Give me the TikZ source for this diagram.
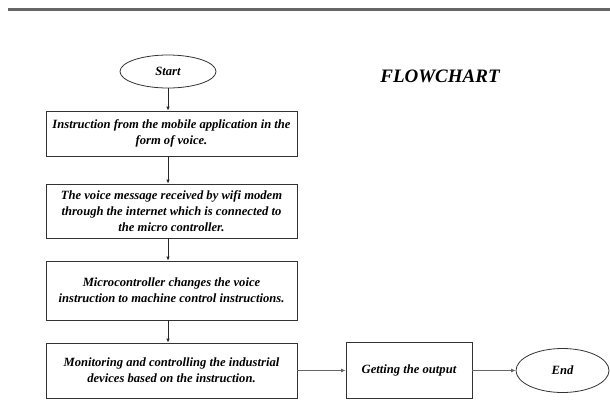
\documentclass[tikz,border=0pt]{standalone}
\usepackage{fontspec}
\setmainfont{Liberation Serif}
\usetikzlibrary{shapes.geometric,arrows.meta}
\tikzset{
  txt/.style={font=\fontsize{12.6}{16}\selectfont\bfseries\itshape, align=center, text=black},
  procbox/.style={txt, draw=black!80, line width=0.8pt, rectangle, minimum width=251pt, inner sep=0pt},
  term/.style={txt, draw=black!80, line width=0.8pt, ellipse, inner sep=0pt},
  arr/.style={draw=black!85, line width=0.8pt, -{Latex[length=4pt,width=3.5pt]}},
  harr/.style={draw=black!60, line width=1.2pt, -{Latex[length=4.5pt,width=4pt]}}
}
\begin{document}
\begin{tikzpicture}[x=1pt,y=-1pt]
\useasboundingbox (0,0) rectangle (610,400);
\fill[white] (0,0) rectangle (610,400);
\draw[draw=black!60, line width=3pt] (8,9.5) -- (610,9.5);
\node[term, minimum width=96pt, minimum height=33pt] (start) at (168,71.5) {Start};
\node[font=\fontsize{19}{22}\selectfont\bfseries\itshape] (title) at (440,76) {FLOWCHART};
\node[procbox, minimum height=45pt] (b1) at (171.5,133.5) {Instruction from the mobile application in the\\form of voice.};
\node[procbox, minimum height=54pt] (b2) at (171.5,211) {The voice message received by wifi modem\\through the internet which is connected to\\the micro controller.};
\node[procbox, minimum height=59pt] (b3) at (171.5,290.5) {Microcontroller changes the voice\\instruction to machine control instructions.};
\node[procbox, minimum height=55pt] (b4) at (171.5,370.5) {Monitoring and controlling the industrial\\devices based on the instruction.};
\node[procbox, minimum width=126pt, minimum height=56pt] (out) at (409,370.5) {Getting the output};
\node[term, minimum width=93pt, minimum height=44pt] (end) at (562.5,370.5) {End};
\draw[arr] (start.south) -- (start.south |- b1.north);
\draw[arr] (b1.south -| start.south) -- (b2.north -| start.south);
\draw[arr] (b2.south -| start.south) -- (b3.north -| start.south);
\draw[arr] (b3.south -| start.south) -- (b4.north -| start.south);
\draw[harr] (b4.east) -- (out.west);
\draw[harr] (out.east) -- (end.west);
\end{tikzpicture}
\end{document}
